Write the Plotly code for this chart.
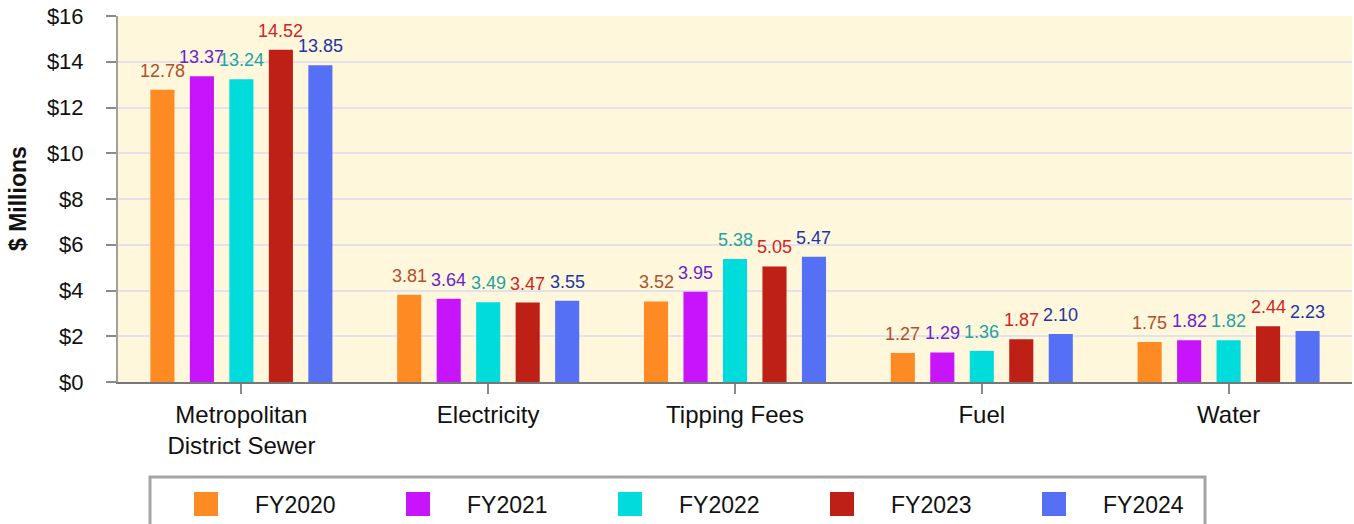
import plotly.graph_objects as go

# Utility cost categories and fiscal-year series ($ millions)
categories = ["Metropolitan<br>District Sewer", "Electricity", "Tipping Fees", "Fuel", "Water"]
years = ["FY2020", "FY2021", "FY2022", "FY2023", "FY2024"]
fy2020 = [12.78, 3.81, 3.52, 1.27, 1.75]
fy2021 = [13.37, 3.64, 3.95, 1.29, 1.82]
fy2022 = [13.24, 3.49, 5.38, 1.36, 1.82]
fy2023 = [14.52, 3.47, 5.05, 1.87, 2.44]
fy2024 = [13.85, 3.55, 5.47, 2.10, 2.23]
series = [fy2020, fy2021, fy2022, fy2023, fy2024]

bar_colors = ["#FD8A22", "#C814FA", "#00DCDC", "#BE2016", "#5570F5"]
label_colors = ["#B0502A", "#6A22CC", "#1FA3A0", "#D02424", "#1C34A8"]

FONT = "Liberation Sans, Arial, sans-serif"
W, H = 1354, 524
ML, MR, MT, MB = 118, 2, 16, 142
PW, PH = W - ML - MR, H - MT - MB
BARGAP = 0.2
BARGROUPGAP = 0.39

fig = go.Figure()
for name, vals, col in zip(years, series, bar_colors):
    fig.add_trace(go.Bar(
        name=name, x=categories, y=vals,
        marker=dict(color=col, line=dict(width=0)),
        showlegend=False,
        hoverinfo="x+y+name",
    ))

annotations = []
# value labels above each bar, offset to the bar's slot within its group
slot = (1 - BARGAP) / len(series)
for j, (vals, lc) in enumerate(zip(series, label_colors)):
    for i, v in enumerate(vals):
        annotations.append(dict(
            x=i + (j - (len(series) - 1) / 2) * slot, y=v,
            xref="x", yref="y", text=f"{v:.2f}", showarrow=False,
            yanchor="bottom", xanchor="center", yshift=7,
            font=dict(family=FONT, size=18, color=lc),
        ))

# axis title
annotations.append(dict(
    x=(18 - ML) / PW, y=0.5, xref="paper", yref="paper",
    text="<b>$ Millions</b>", textangle=-90, showarrow=False,
    xanchor="center", yanchor="middle",
    font=dict(family=FONT, size=23, color="#111111"),
))

def px_x(px):
    return (px - ML) / PW

def px_y(py):
    return (H - MB - py) / PH

# legend box with swatches and labels
shapes = [dict(
    type="rect", xref="paper", yref="paper",
    x0=px_x(150), x1=px_x(1205), y0=px_y(560), y1=px_y(477),
    line=dict(color="#A4A4A4", width=3), fillcolor="white", layer="above",
)]
for k, (name, col) in enumerate(zip(years, bar_colors)):
    cx = 206 + 212 * k
    shapes.append(dict(
        type="rect", xref="paper", yref="paper",
        x0=px_x(cx - 12), x1=px_x(cx + 12), y0=px_y(516), y1=px_y(492),
        line=dict(width=0), fillcolor=col, layer="above",
    ))
    annotations.append(dict(
        x=px_x(cx + 47), y=px_y(505), xref="paper", yref="paper",
        text=name, showarrow=False, xanchor="left", yanchor="middle",
        font=dict(family=FONT, size=23, color="#111111"),
    ))

fig.update_layout(
    width=W, height=H,
    margin=dict(l=ML, r=MR, t=MT, b=MB, pad=0),
    paper_bgcolor="white", plot_bgcolor="#FEF7DC",
    barmode="group", bargap=BARGAP, bargroupgap=BARGROUPGAP,
    font=dict(family=FONT, color="#111111"),
    annotations=annotations, shapes=shapes,
    showlegend=False,
)
fig.update_xaxes(
    showline=True, linecolor="#777777", linewidth=2,
    ticks="outside", ticklen=10, tickcolor="#8A8A8A", tickwidth=2,
    tickfont=dict(family=FONT, size=24, color="#111111"),
    showgrid=False,
)
fig.update_yaxes(
    range=[0, 16], dtick=2, tickprefix="$", tickformat="d",
    showline=True, linecolor="#A0A0A0", linewidth=2,
    ticks="outside", ticklen=10, tickcolor="#8A8A8A", tickwidth=2,
    ticklabelstandoff=18,
    tickfont=dict(family=FONT, size=22, color="#111111"),
    showgrid=True, gridcolor="#E2E2EA", gridwidth=1.5,
    zeroline=False,
)

fig.write_html("out.html")
